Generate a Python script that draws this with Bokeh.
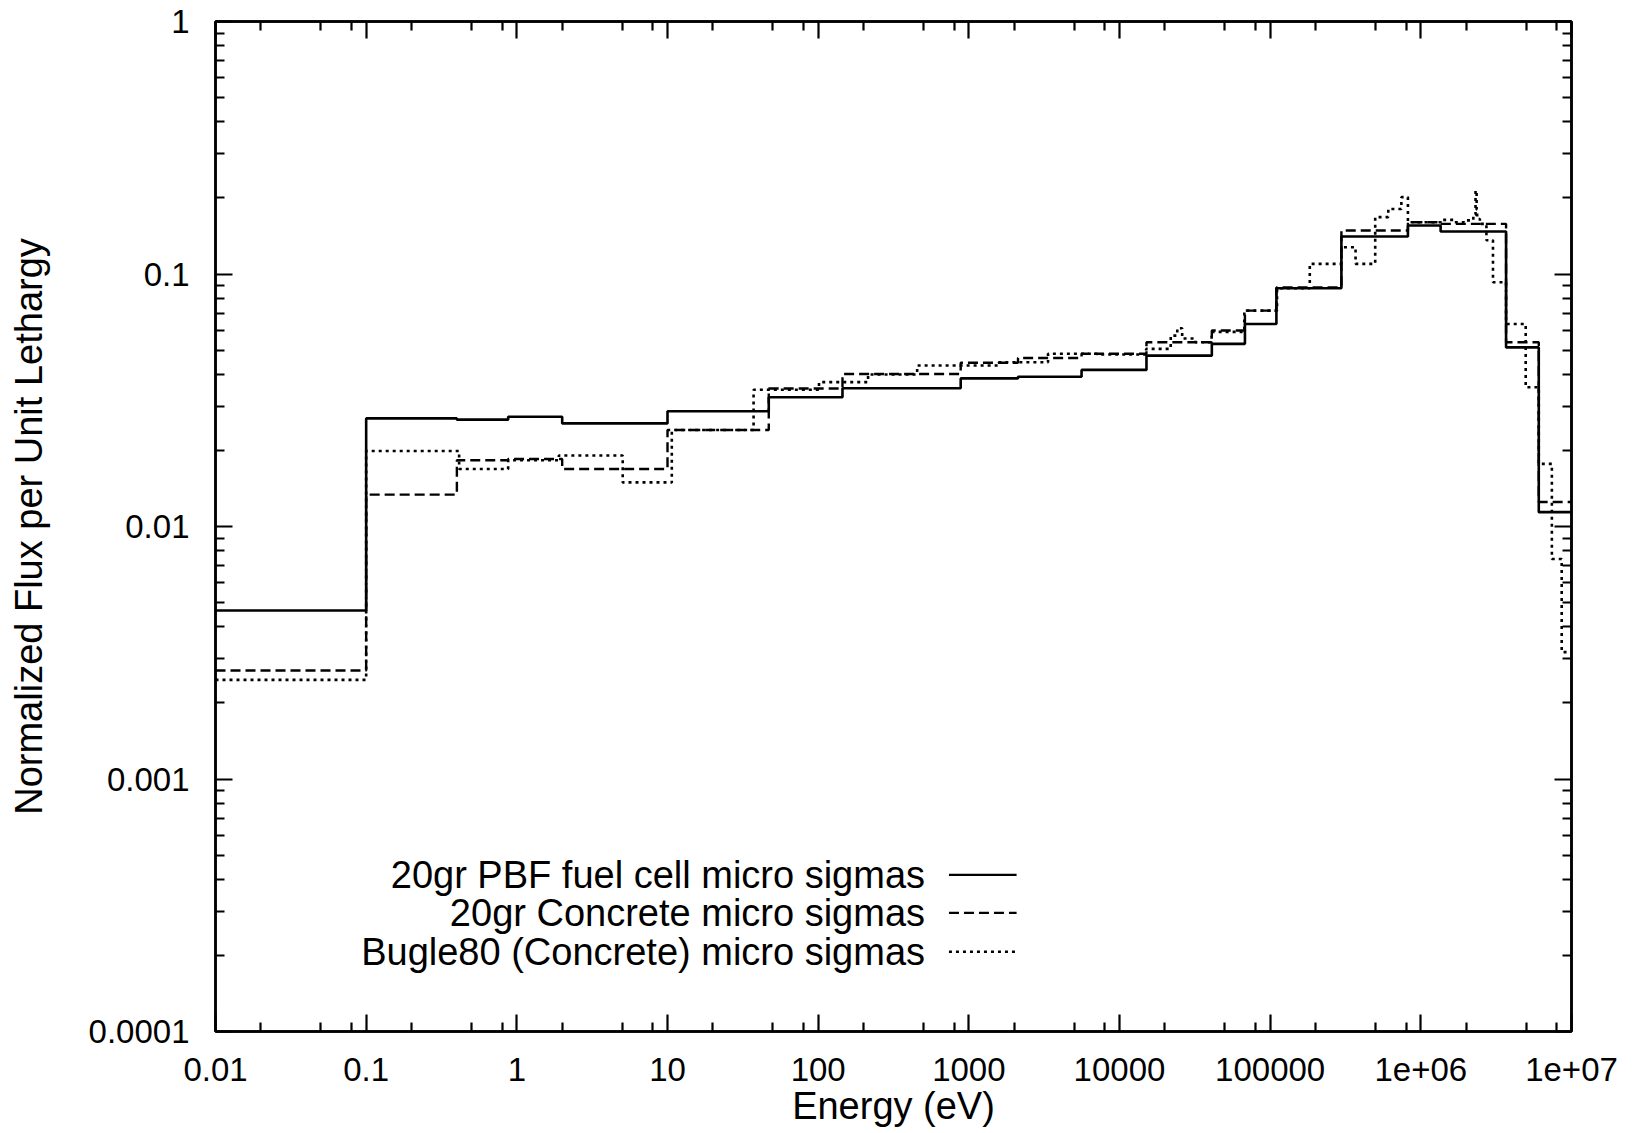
from bokeh.plotting import figure
from bokeh.models import (FixedTicker, LogAxis, CustomJSTickFormatter, Label,
                          Arrow, Range1d)
from bokeh.embed import file_html
from bokeh.resources import INLINE

# ---------------- data ----------------
# 20-group structure (eV), lower edge clipped at 0.01 by the axis
edges_20 = [0.01, 0.1, 0.4, 0.876, 2.0, 10.0, 47.0, 145.0, 883.0, 2120.0,
            5600.0, 15100.0, 41000.0, 68000.0, 110000.0, 297000.0, 821000.0,
            1.353e6, 3.679e6, 6.065e6, 1.0e7]
flux_pbf = [0.00465, 0.0268, 0.0265, 0.0272, 0.0256, 0.0286, 0.0325, 0.0353,
            0.0386, 0.0392, 0.0417, 0.0475, 0.0529, 0.0634, 0.0878, 0.1407,
            0.1556, 0.1474, 0.0512, 0.0114]
flux_concrete20 = [0.00269, 0.01337, 0.0183, 0.0185, 0.0169, 0.0241, 0.0352,
                   0.0402, 0.0445, 0.0465, 0.0483, 0.0537, 0.0597, 0.0716,
                   0.0885, 0.1486, 0.1603, 0.158, 0.0537, 0.0125]

# BUGLE-80 structure (eV)
edges_bugle = [0.01, 0.1, 0.414, 0.876, 1.9, 5.043, 10.68, 37.27, 101.3, 214.4,
               454.0, 1585.0, 3355.0, 7102.0, 15030.0, 21880.0, 24180.0,
               26060.0, 31830.0, 40870.0, 67380.0, 111100.0, 183200.0,
               297200.0, 368800.0, 497900.0, 608100.0, 742700.0, 820800.0,
               1.003e6, 1.353e6, 1.653e6, 1.92e6, 2.231e6, 2.307e6, 2.346e6,
               2.365e6, 2.466e6, 2.725e6, 3.012e6, 3.679e6, 4.966e6, 6.065e6,
               7.408e6, 8.607e6, 1.0e7]
flux_bugle = [0.00247, 0.0199, 0.0169, 0.0183, 0.0191, 0.01495, 0.0241,
              0.0348, 0.0373, 0.0400, 0.0434, 0.0447, 0.0483, 0.0480, 0.0505,
              0.057, 0.061, 0.0555, 0.0537, 0.059, 0.0716, 0.0878, 0.1097,
              0.1277, 0.1097, 0.168, 0.181, 0.2015, 0.1603, 0.1603, 0.1638,
              0.1603, 0.163, 0.172, 0.214, 0.18, 0.165, 0.158, 0.136, 0.0928,
              0.0634, 0.0356, 0.0177, 0.00744, 0.00318]

series_names = ["20gr PBF fuel cell micro sigmas",
                "20gr Concrete micro sigmas",
                "Bugle80 (Concrete) micro sigmas"]

x_tick_vals = [1e-2, 1e-1, 1e0, 1e1, 1e2, 1e3, 1e4, 1e5, 1e6, 1e7]
x_tick_labels = ["0.01", "0.1", "1", "10", "100", "1000", "10000", "100000",
                 "1e+06", "1e+07"]
y_tick_vals = [1e-4, 1e-3, 1e-2, 1e-1, 1e0]
y_tick_labels = ["0.0001", "0.001", "0.01", "0.1", "1"]

x_title = "Energy (eV)"
y_title = "Normalized Flux per Unit Lethargy"

# ---------------- layout / style constants ----------------
FONT = "Liberation Sans"
x_minor = [m * v for v in x_tick_vals[:-1] for m in (2, 5, 8)]
y_minor = [m * v for v in y_tick_vals[:-1] for m in range(2, 10)]

p = figure(width=1630, height=1130, x_axis_type="log", y_axis_type="log",
           x_range=Range1d(1e-2, 1e7), y_range=Range1d(1e-4, 1.0),
           output_backend="svg", toolbar_location=None,
           min_border_left=215, min_border_right=59, min_border_top=21,
           min_border_bottom=99)
p.xgrid.visible = False
p.ygrid.visible = False
p.outline_line_color = "black"
p.outline_line_width = 2.5
p.background_fill_color = "white"
p.border_fill_color = "white"

solid_w = 2.6
p.step(x=edges_20, y=flux_pbf + [flux_pbf[-1]], mode="after",
       line_color="black", line_width=solid_w)
p.step(x=edges_20, y=flux_concrete20 + [flux_concrete20[-1]], mode="after",
       line_color="black", line_width=2.4, line_dash="10 5")
p.step(x=edges_bugle, y=flux_bugle + [flux_bugle[-1]], mode="after",
       line_color="black", line_width=2.6, line_dash="3 4")


def fmt(vals, labs):
    return CustomJSTickFormatter(args=dict(vals=vals, labs=labs), code="""
        for (let i = 0; i < vals.length; i++) {
            if (Math.abs(Math.log10(tick) - Math.log10(vals[i])) < 1e-6) return labs[i];
        }
        return '';
    """)


def style(ax):
    ax.axis_line_color = "black"
    ax.axis_line_width = 2.5
    ax.major_tick_line_color = "black"
    ax.major_tick_line_width = 2.2
    ax.minor_tick_line_color = "black"
    ax.minor_tick_line_width = 2.2
    ax.major_tick_in = 17
    ax.major_tick_out = 0
    ax.minor_tick_in = 9
    ax.minor_tick_out = 0
    ax.major_label_text_font = FONT
    ax.major_label_text_color = "black"
    ax.axis_label_text_font = FONT
    ax.axis_label_text_font_style = "normal"
    ax.axis_label_text_color = "black"


xt = FixedTicker(ticks=x_tick_vals, minor_ticks=x_minor)
yt = FixedTicker(ticks=y_tick_vals, minor_ticks=y_minor)

xa = p.below[0]
xa.ticker = xt
xa.formatter = fmt(x_tick_vals, x_tick_labels)
style(xa)
xa.major_label_text_font_size = "33px"
xa.major_label_standoff = 26
xa.axis_label = x_title
xa.axis_label_text_font_size = "38px"
xa.axis_label_standoff = 1

ya = p.left[0]
ya.ticker = yt
ya.formatter = fmt(y_tick_vals, y_tick_labels)
style(ya)
ya.major_label_text_font_size = "33px"
ya.major_label_standoff = 26
ya.axis_label = y_title
ya.axis_label_text_font_size = "38px"
ya.axis_label_standoff = 36

empty = CustomJSTickFormatter(code="return '';")
top = LogAxis(ticker=FixedTicker(ticks=x_tick_vals, minor_ticks=x_minor),
              formatter=empty)
style(top)
top.major_label_text_font_size = "0px"
top.major_label_standoff = 0
p.add_layout(top, "above")

right = LogAxis(ticker=FixedTicker(ticks=y_tick_vals, minor_ticks=y_minor),
                formatter=empty)
style(right)
right.major_label_text_font_size = "0px"
right.major_label_standoff = 0
p.add_layout(right, "right")

# ---------------- gnuplot-style key (text, then sample) ----------------
key_text_x = 512.0
key_line_x0, key_line_x1 = 738.0, 2075.0
key_rows_y = [4.17e-4, 2.95e-4, 2.07e-4]
key_dashes = ["solid", "10 5", "3 4"]
for name, yy, dash in zip(series_names, key_rows_y, key_dashes):
    p.add_layout(Label(x=key_text_x, y=yy, text=name, text_align="right",
                       text_baseline="middle", text_font=FONT,
                       text_font_size="38px", text_color="black"))
    p.add_layout(Arrow(end=None, x_start=key_line_x0, y_start=yy,
                       x_end=key_line_x1, y_end=yy, line_color="black",
                       line_width=2.4, line_dash=dash))

open("out.html", "w").write(file_html(p, INLINE))
